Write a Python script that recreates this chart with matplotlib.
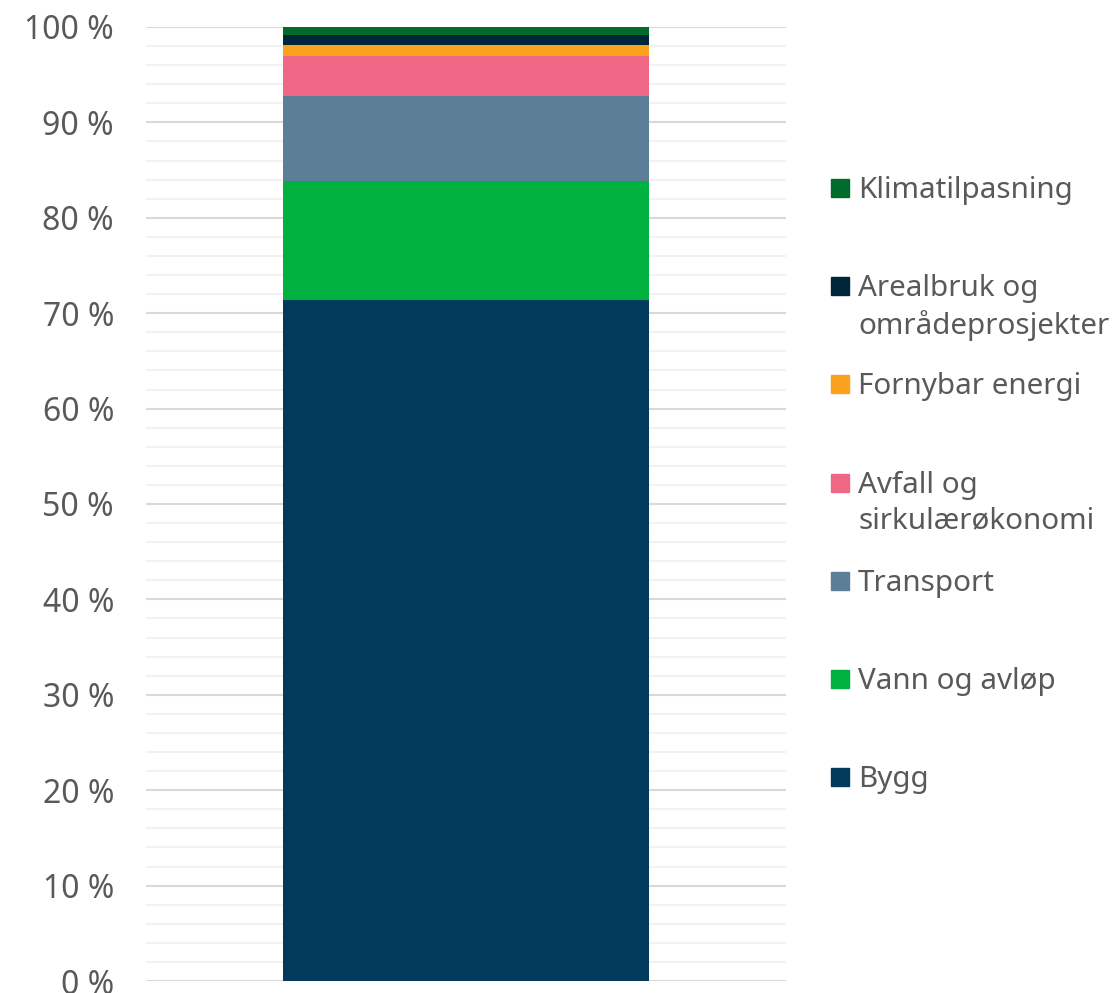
import matplotlib.pyplot as plt
from matplotlib.patches import Rectangle
from matplotlib.ticker import MultipleLocator, FuncFormatter

# shares (%), bottom to top
categories = ["Bygg", "Vann og avløp", "Transport", "Avfall og\nsirkulærøkonomi",
              "Fornybar energi", "Arealbruk og\nområdeprosjekter", "Klimatilpasning"]
shares = [71.4, 12.5, 8.9, 4.2, 1.1, 1.1, 0.8]
colors = ["#003B5C", "#00B140", "#5A7F96", "#F06786", "#FAA21E", "#00263A", "#006B2B"]

plt.rcParams['font.family'] = ['Noto Sans', 'DejaVu Sans']
text_col = "#595959"

fig = plt.figure(figsize=(11.18, 9.93), dpi=100)
ax = fig.add_axes([146 / 1118, 1 - 981 / 993, 640 / 1118, 954 / 993])

bottom = 0
for val, col in zip(shares, colors):
    ax.bar(0, val, bottom=bottom, width=0.572, color=col, zorder=3)
    bottom += val

ax.set_xlim(-0.5, 0.5)
ax.set_ylim(0, 100)
ax.yaxis.set_major_locator(MultipleLocator(10))
ax.yaxis.set_minor_locator(MultipleLocator(2))
ax.yaxis.set_major_formatter(FuncFormatter(lambda v, p: f"{v:.0f} %"))
ax.grid(axis='y', which='major', color='#D9D9D9', lw=1.5, zorder=0)
ax.grid(axis='y', which='minor', color='#F2F2F2', lw=1.5, zorder=0)
ax.set_xticks([])
ax.tick_params(axis='y', which='both', length=0, labelsize=23, labelcolor=text_col, pad=23)
for s in ax.spines.values():
    s.set_visible(False)

# legend, top entry = last series
W, H = 1118, 993
for i, (lab, col) in enumerate(zip(categories[::-1], colors[::-1])):
    y = 188 + 98.2 * i
    fig.patches.append(Rectangle((831 / W, 1 - (y + 9) / H), 18 / W, 18 / H,
                                 transform=fig.transFigure, color=col))
    fig.text(858 / W, 1 - (y - 12) / H, lab, fontsize=21.3, color=text_col,
             va='top', ha='left', linespacing=1.3)

fig.savefig("out.png", dpi=100)
